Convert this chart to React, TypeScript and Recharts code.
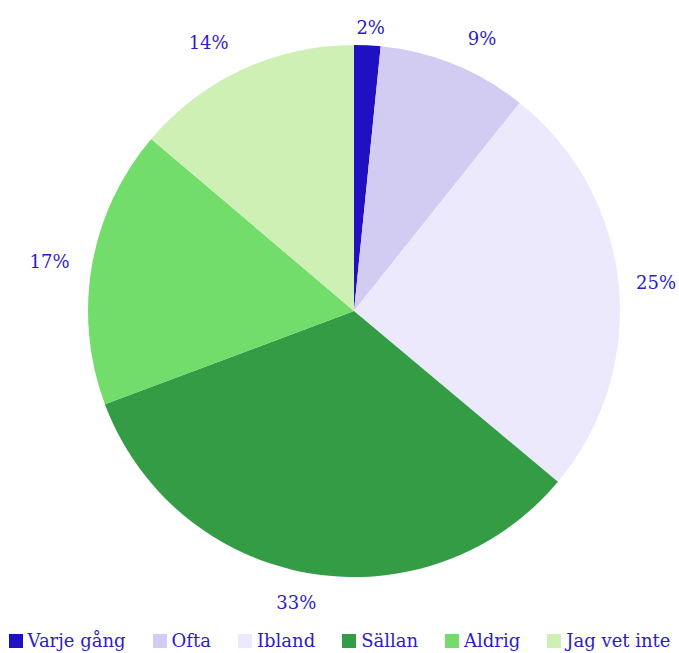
import { PieChart, Pie, Cell, Legend } from "recharts";

// Andel svar per alternativ (%)
const categories = ["Varje gång", "Ofta", "Ibland", "Sällan", "Aldrig", "Jag vet inte"];
const shares = [1.6, 9.1, 25.4, 33.2, 16.9, 13.8];
const colors = ["#2010c4", "#d2ccf2", "#ece9fc", "#339c45", "#72dd6b", "#cff0b5"];

const TEXT_COLOR = "#2d1bc8";
const FONT = "'DejaVu Serif', serif";
const RAD = Math.PI / 180;

const data = categories.map((name, i) => ({ name, value: shares[i] }));

// label sits just outside the slice, pushed a bit further out on the diagonals
function renderLabel(props: any) {
  const { cx, cy, midAngle, outerRadius, percent } = props;
  const text = `${Math.round(percent * 100)}%`;
  const dx = Math.cos(midAngle * RAD);
  const dy = -Math.sin(midAngle * RAD);
  const r = outerRadius + 12 + 36 * Math.abs(dx * dy);
  const halfW = text.length * 6;
  const halfH = dy > 0 ? 12 : 4;
  const x = cx + r * dx + dx * halfW + 40 * dx * Math.abs(dy);
  const y = cy + r * dy + dy * halfH;
  return (
    <text
      x={x}
      y={y}
      fill={TEXT_COLOR}
      textAnchor="middle"
      dominantBaseline="central"
      style={{ fontFamily: FONT, fontSize: 18 }}
    >
      {text}
    </text>
  );
}

function renderLegend() {
  return (
    <div
      style={{
        display: "flex",
        justifyContent: "center",
        gap: 27,
        fontFamily: FONT,
        fontSize: 18,
        lineHeight: "22px",
        color: TEXT_COLOR,
        whiteSpace: "nowrap",
      }}
    >
      {categories.map((c, i) => (
        <span key={c} style={{ display: "flex", alignItems: "center" }}>
          <span
            style={{
              width: 14,
              height: 14,
              background: colors[i],
              marginRight: 5,
              display: "inline-block",
            }}
          />
          {c}
        </span>
      ))}
    </div>
  );
}

export default function App() {
  return (
    <div style={{ position: "fixed", left: 0, top: 0, width: 679, height: 653, background: "#fff" }}>
      <PieChart width={679} height={653} margin={{ top: 0, right: 0, bottom: 0, left: 0 }}>
        <Pie
          data={data}
          dataKey="value"
          nameKey="name"
          cx={354}
          cy={311}
          outerRadius={266}
          startAngle={90}
          endAngle={-270}
          stroke="none"
          label={renderLabel}
          labelLine={false}
          isAnimationActive={false}
        >
          {data.map((d, i) => (
            <Cell key={d.name} fill={colors[i]} />
          ))}
        </Pie>
        <Legend
          verticalAlign="bottom"
          content={renderLegend}
          wrapperStyle={{ left: 0, width: 679, top: 630, bottom: "auto" }}
        />
      </PieChart>
    </div>
  );
}
